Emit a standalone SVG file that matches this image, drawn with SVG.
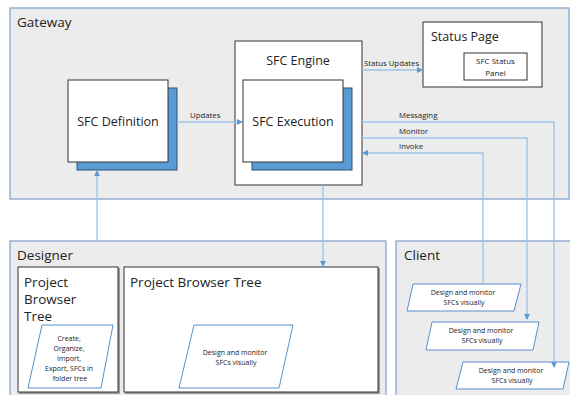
<svg xmlns="http://www.w3.org/2000/svg" width="570" height="395" viewBox="0 0 570 395">
<defs>
<marker id="ah" markerWidth="6" markerHeight="6" refX="5" refY="3" orient="auto" markerUnits="userSpaceOnUse">
<path d="M0,0 L6,3 L0,6 z" fill="#5b9bd5"/>
</marker>
<style>
text{font-family:"Open Sans","Liberation Sans",sans-serif;fill:#222}
.panel{fill:#ececec;stroke:#7ea1c9;stroke-width:1.2}
.box{fill:#fff;stroke:#333;stroke-width:1}
.shade{fill:#9a9a9a}
.blue{fill:#5b9bd5;stroke:#2f4f6f;stroke-width:1}
.para{fill:#fff;stroke:#5b8fcb;stroke-width:1}
.conn{fill:none;stroke:#9dc3e6;stroke-width:1.3}
.t14{font-size:13.5px}
.t13{font-size:12.5px}
.lbl{font-size:7.8px}
.small{font-size:7px}
.mid{font-size:8px}
</style>
</defs>
<rect width="570" height="395" fill="#fff"/>
<g id="gateway">
<rect class="panel" x="10" y="8" width="559" height="191"/>
<text class="t14" x="17" y="27">Gateway</text>
</g>
<g id="designer">
<rect class="panel" x="10" y="241" width="376" height="160"/>
<text class="t14" x="17" y="260">Designer</text>
</g>
<g id="client">
<rect class="panel" x="396" y="241" width="180" height="160"/>
<text class="t14" x="404" y="260">Client</text>
</g>
<g id="sfc-definition">
<rect class="blue" x="77" y="88" width="100" height="82"/>
<rect class="box" x="68" y="80" width="100" height="82"/>
<text class="t13" x="118" y="126" text-anchor="middle">SFC Definition</text>
</g>
<g id="sfc-engine">
<rect class="box" x="235" y="41" width="127" height="144"/>
<text class="t13" x="298" y="65" text-anchor="middle">SFC Engine</text>
</g>
<g id="sfc-execution">
<rect class="blue" x="252" y="88" width="100" height="82"/>
<rect class="box" x="243" y="80" width="100" height="82"/>
<text class="t13" x="293" y="126" text-anchor="middle">SFC Execution</text>
</g>
<g id="status-page">
<rect class="box" x="423" y="22" width="119" height="65"/>
<text class="t13" x="431" y="41">Status Page</text>
</g>
<g id="sfc-status-panel">
<rect class="box" x="464" y="53" width="63" height="27"/>
<text class="mid" x="495.5" y="64" text-anchor="middle">SFC Status</text>
<text class="mid" x="495.5" y="76" text-anchor="middle">Panel</text>
</g>
<g id="project-browser-tree-small">
<rect class="shade" x="19" y="268" width="101" height="126"/>
<rect class="box" x="18" y="267" width="100" height="125"/>
<text class="t14" x="24" y="287">Project</text>
<text class="t14" x="24" y="304">Browser</text>
<text class="t14" x="24" y="321">Tree</text>
</g>
<g id="create-organize">
<polygon class="para" points="42,325 113,325 101,388 28,388"/>
<text class="small" text-anchor="middle">
<tspan x="70" y="341">Create,</tspan>
<tspan x="70" y="351">Organize,</tspan>
<tspan x="70" y="361">Import,</tspan>
<tspan x="70" y="371">Export, SFCs in</tspan>
<tspan x="70" y="381">folder tree</tspan>
</text>
</g>
<g id="project-browser-tree">
<rect class="shade" x="125" y="268" width="255" height="126"/>
<rect class="box" x="124" y="267" width="254" height="125"/>
<text class="t14" x="130" y="287">Project Browser Tree</text>
</g>
<g id="designer-design-monitor">
<polygon class="para" points="194,325 293,325 279,388 179,388"/>
<text class="small" text-anchor="middle">
<tspan x="236" y="355">Design and monitor</tspan>
<tspan x="236" y="365">SFCs visually</tspan>
</text>
</g>
<g id="client-1">
<polygon class="para" points="413,284 521,284 514,311 407,311"/>
<text class="small" text-anchor="middle">
<tspan x="464" y="295">Design and monitor</tspan>
<tspan x="464" y="305">SFCs visually</tspan>
</text>
</g>
<g id="client-2">
<polygon class="para" points="432,322 539,322 533,350 426,350"/>
<text class="small" text-anchor="middle">
<tspan x="482" y="333">Design and monitor</tspan>
<tspan x="482" y="343">SFCs visually</tspan>
</text>
</g>
<g id="client-3">
<polygon class="para" points="463,362 569,362 563,389 456,389"/>
<text class="small" text-anchor="middle">
<tspan x="512" y="373">Design and monitor</tspan>
<tspan x="512" y="383">SFCs visually</tspan>
</text>
</g>
<g id="connectors">
<path class="conn" d="M177,122 H242" marker-end="url(#ah)"/>
<text class="lbl" x="190" y="118">Updates</text>
<path class="conn" d="M362,70 H422" marker-end="url(#ah)"/>
<text class="lbl" x="364" y="66">Status Updates</text>
<path class="conn" d="M362,122 H554 V367" marker-end="url(#ah)"/>
<text class="lbl" x="399" y="118">Messaging</text>
<path class="conn" d="M362,138 H527 V319" marker-end="url(#ah)"/>
<text class="lbl" x="399" y="134">Monitor</text>
<path class="conn" d="M483,284 V153 H363" marker-end="url(#ah)"/>
<text class="lbl" x="399" y="149">Invoke</text>
<path class="conn" d="M323,185 V266" marker-end="url(#ah)"/>
<path class="conn" d="M97,241 V171" marker-end="url(#ah)"/>
</g>
</svg>
